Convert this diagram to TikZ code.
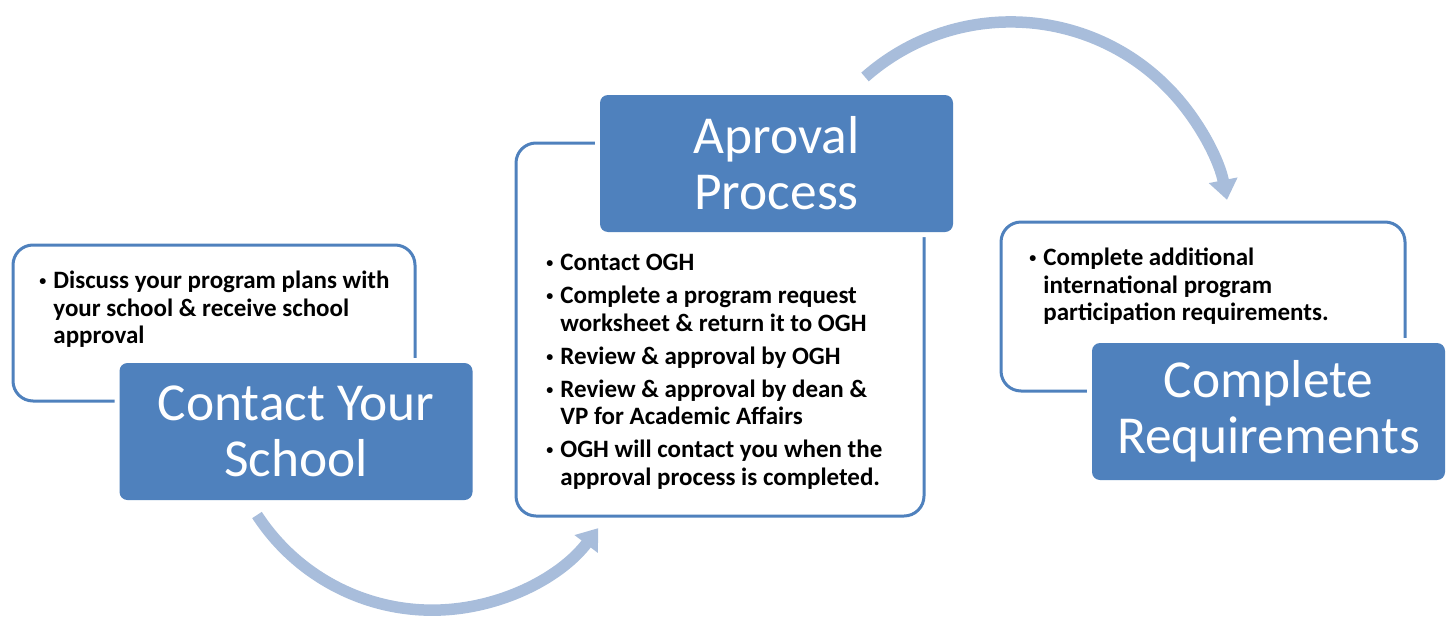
\documentclass[tikz,border=0pt]{standalone}
\usepackage{fontspec}
\setmainfont{Carlito}
\usetikzlibrary{arrows.meta}

\definecolor{stepblue}{RGB}{79,129,189}
\definecolor{arrowblue}{RGB}{168,189,219}

\newcommand{\bul}{\makebox[7.5pt][l]{\hspace{0.5pt}\raisebox{1.6pt}{\fontsize{7}{7}\selectfont\textbullet}}}
\newcommand{\ind}{\hspace*{7.5pt}}

\begin{document}
\begin{tikzpicture}[x=0.5pt, y=-0.5pt,
    notebox/.style={draw=stepblue, line width=1.5pt, rounded corners=10pt, fill=white, inner sep=0pt},
    titlebox/.style={fill=stepblue, rounded corners=4pt, preaction={draw=white, line width=5pt},
      text=white, align=center, inner sep=0pt, minimum width=176.5pt, minimum height=68.5pt,
      font=\fontsize{26.7}{28}\selectfont},
    bullets/.style={anchor=north west, align=left, inner sep=0pt, font=\fontsize{12.5}{13.75}\selectfont\bfseries},
    flowarrow/.style={draw=arrowblue, line width=5.75pt, -{Triangle[length=10pt, width=14pt]}}]
    \useasboundingbox (0,0) rectangle (1449,621);

    %---------------------------------------------------------------%
    \node[notebox, minimum width=201pt, minimum height=78pt] (schoolnote) at (214,323) {};
    \node[titlebox] (school) at (296,431.5) {Contact Your\\School};
    \node[bullets] (schooltext) at (38,271)
      {\bul Discuss your program plans with\\ \ind your school \& receive school\\ \ind approval};
    %---------------------------------------------------------------%
    \node[notebox, minimum width=204pt, minimum height=186.5pt] (approvalnote) at (720,329.5) {};
    \node[titlebox] (approval) at (776.5,163.5) {Aproval\\Process};
    \node[bullets] (approvaltext) at (545,254)
      {\bul Contact OGH\\[2.75pt]
       \bul Complete a program request\\ \ind worksheet \& return it to OGH\\[2.75pt]
       \bul Review \& approval by OGH\\[2.75pt]
       \bul Review \& approval by dean \&\\ \ind VP for Academic Affairs\\[2.75pt]
       \bul OGH will contact you when the\\ \ind approval process is completed.};
    %---------------------------------------------------------------%
    \node[notebox, minimum width=202pt, minimum height=84.5pt] (reqnote) at (1203,306.5) {};
    \node[titlebox] (req) at (1268.5,411.5) {Complete\\Requirements};
    \node[bullets] (reqtext) at (1028,248)
      {\bul Complete additional\\ \ind international program\\ \ind participation requirements.};
    %---------------------------------------------------------------%
    \coordinate (lowstart) at (257,515);% below Contact Your School
    \coordinate (highstart) at (865,77);% above Aproval Process
    \draw[flowarrow] (lowstart) arc[start angle=147, end angle=37.4, radius=209];
    \draw[flowarrow] (highstart) arc[start angle=228.6, end angle=348.9, radius=220.4];
\end{tikzpicture}
\end{document}
